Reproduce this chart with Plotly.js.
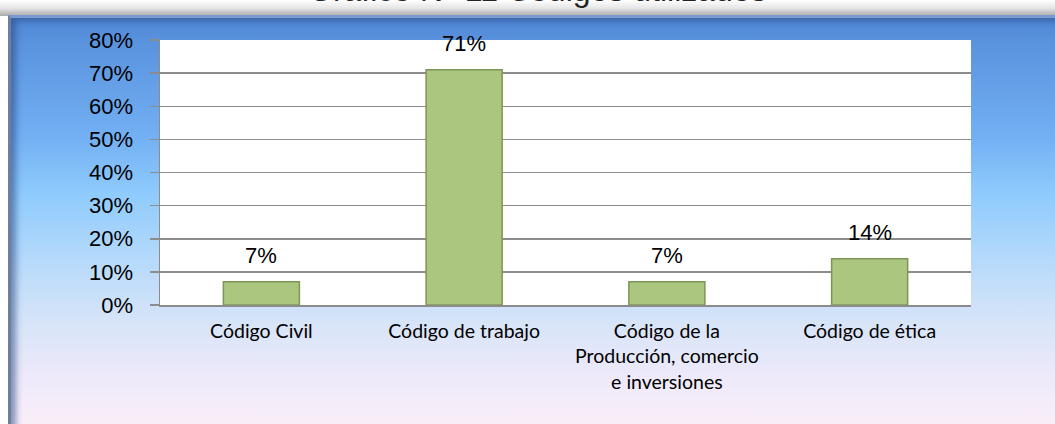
<!DOCTYPE html>
<html>
<head>
<meta charset="utf-8">
<script src="https://cdn.plot.ly/plotly-3.0.1.min.js"></script>
<style>
  html, body { margin:0; padding:0; width:1055px; height:424px; overflow:hidden; background:#ffffff; }
  #topshade { position:absolute; left:0; top:0; width:1055px; height:16px;
    background: linear-gradient(to bottom, #ffffff 0%, #e6e6e6 50%, #a9a9a9 100%); }
  #frame { position:absolute; left:8px; top:15px; width:1060px; height:420px;
    background: linear-gradient(to bottom, #4f86d6 0%, #5a93de 6%, #72aff3 28%, #8fcbfc 42%, #b6dafb 58%, #d6e4f8 72%, #eeeafa 86%, #fdf0f8 100%);
    border-left: 3px solid #6d7f99; border-top: 3px solid #7a9bd0;
    box-shadow: inset 8px 6px 6px -3px rgba(40,70,130,0.55); }
  #chart { position:absolute; left:0; top:0; width:1055px; height:424px; }
</style>
</head>
<body>
<div id="topshade"></div>
<div id="frame"></div>
<div id="chart"></div>
<script>
const categories = ["Código Civil", "Código de trabajo", "Código de la<br>Producción, comercio<br>e inversiones", "Código de ética"];
const values = [0.07, 0.71, 0.07, 0.14];
const valueLabels = ["7%", "71%", "7%", "14%"];
const yTickVals = [0, 0.1, 0.2, 0.3, 0.4, 0.5, 0.6, 0.7, 0.8];
const yTickText = ["0%", "10%", "20%", "30%", "40%", "50%", "60%", "70%", "80%"];
const chartTitle = "Gráfico N° 11 Códigos utilizados";

const trace = {
  type: "bar",
  x: categories,
  y: values,
  width: 0.375,
  marker: { color: "#abc67f", line: { color: "#7d9656", width: 1.5 } },
  hoverinfo: "skip"
};

const annotations = categories.map((c, i) => ({
  x: c, y: values[i], xref: "x", yref: "y",
  text: valueLabels[i], showarrow: false,
  yanchor: "bottom", yshift: 12,
  font: { family: "Liberation Sans, Arial, sans-serif", size: 22, color: "#000" }
}));
annotations.push({
  xref: "paper", yref: "paper", x: 0.465, y: 1.0, yshift: 30,
  xanchor: "center", yanchor: "bottom",
  text: chartTitle, showarrow: false,
  font: { family: "Liberation Sans, Arial, sans-serif", size: 32, color: "#222" }
});

const layout = {
  width: 1055, height: 424,
  margin: { l: 160, r: 84, t: 40, b: 119 },
  paper_bgcolor: "rgba(0,0,0,0)",
  plot_bgcolor: "#ffffff",
  showlegend: false,
  bargap: 0.625,
  xaxis: {
    type: "category",
    showgrid: false,
    showline: true, linecolor: "#8c8c8c", linewidth: 1.5,
    ticks: "", ticklabelstandoff: 8,
    tickfont: { family: "Lato, Open Sans, sans-serif", size: 19.5, color: "#000" },
    fixedrange: true
  },
  yaxis: {
    range: [0, 0.8],
    tickvals: yTickVals, ticktext: yTickText,
    showgrid: true, gridcolor: "#8c8c8c", gridwidth: 1.5,
    showline: true, linecolor: "#8c8c8c", linewidth: 1.5,
    ticks: "outside", ticklen: 9, tickcolor: "#8c8c8c", tickwidth: 1.5,
    ticklabelstandoff: 12,
    tickfont: { family: "Liberation Sans, Arial, sans-serif", size: 22, color: "#000" },
    zeroline: false,
    fixedrange: true
  },
  annotations: annotations
};

Plotly.newPlot("chart", [trace], layout, { displayModeBar: false, staticPlot: true });
</script>
</body>
</html>
